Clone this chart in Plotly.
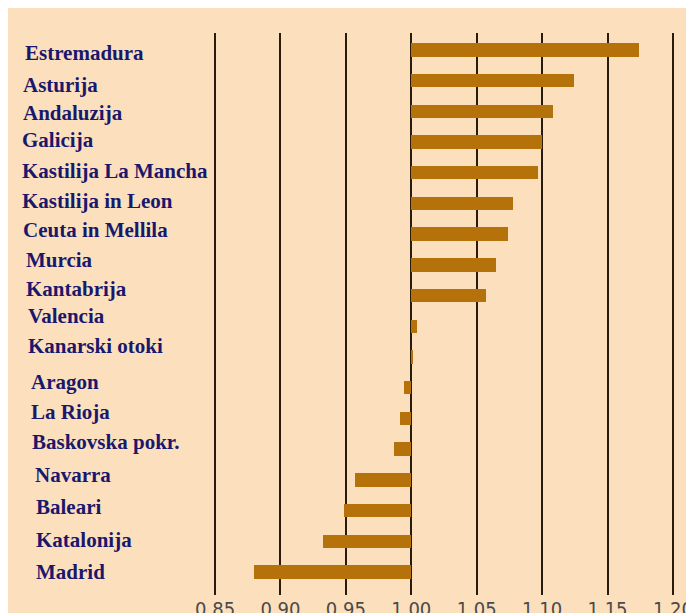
import plotly.graph_objects as go

# ---- data ----
regions = [
    "Estremadura", "Asturija", "Andaluzija", "Galicija", "Kastilija La Mancha",
    "Kastilija in Leon", "Ceuta in Mellila", "Murcia", "Kantabrija", "Valencia",
    "Kanarski otoki", "Aragon", "La Rioja", "Baskovska pokr.", "Navarra",
    "Baleari", "Katalonija", "Madrid",
]
index_values = [
    1.174, 1.124, 1.108, 1.100, 1.097,
    1.078, 1.074, 1.065, 1.057, 1.0045,
    1.0015, 0.9947, 0.991, 0.9868, 0.957,
    0.9485, 0.9327, 0.8794,
]
baseline = 1.0
tick_values = [0.85, 0.90, 0.95, 1.00, 1.05, 1.10, 1.15, 1.20]

# ---- layout / style constants ----
W, H = 694, 613
ML, MR, MT, MB = 194, 16, 25, 26
PW = W - ML - MR
BG = "#FCE0BE"
BAR = "#B5720B"
GRID = "#2A1C0C"
TXT = "#1A186C"

# label indents (px from figure left edge) and vertical nudges (px)
label_left_px = [15, 13, 13, 12, 12, 12, 13, 16, 16, 18, 18, 21, 21, 22, 25, 26, 26, 26]
label_yshift = [-3, -4, -2, 2, 2, 2, 4, 5, 7, 10, 11, 6, 6, 7, 5, 4, 1, 0]

def px_to_paper_x(px):
    return (px - ML) / PW

fig = go.Figure()
fig.add_trace(go.Bar(
    y=list(range(len(regions))),
    x=[v - baseline for v in index_values],
    base=baseline,
    orientation="h",
    width=0.44,
    marker=dict(color=BAR, line=dict(width=0)),
    hoverinfo="skip",
))

annotations = []
for i, name in enumerate(regions):
    annotations.append(dict(
        x=px_to_paper_x(label_left_px[i]), xref="paper",
        y=i, yref="y",
        text=name, showarrow=False,
        xanchor="left", yanchor="middle",
        yshift=label_yshift[i],
        font=dict(family="Liberation Serif, Times New Roman, serif", size=21,
                  color=TXT, weight="bold"),
    ))

fig.update_layout(
    width=W, height=H,
    margin=dict(l=ML, r=MR, t=MT, b=MB, pad=0),
    paper_bgcolor=BG,
    plot_bgcolor=BG,
    showlegend=False,
    bargap=0,
    annotations=annotations,
    xaxis=dict(
        range=[0.84, 1.21],
        tickvals=tick_values,
        ticktext=[f"{t:.2f}" for t in tick_values],
        showgrid=True, gridcolor=GRID, gridwidth=2,
        zeroline=False, showline=False, ticks="",
        tickfont=dict(family="Liberation Sans Narrow, DejaVu Sans Condensed, Arial Narrow, sans-serif",
                      size=20, color="#4A4A4A"),
        automargin=False, fixedrange=True,
    ),
    yaxis=dict(
        range=[17.75, -0.55],
        showgrid=False, zeroline=False, showline=False,
        showticklabels=False, ticks="",
        automargin=False, fixedrange=True,
    ),
)

fig.write_html("out.html")
